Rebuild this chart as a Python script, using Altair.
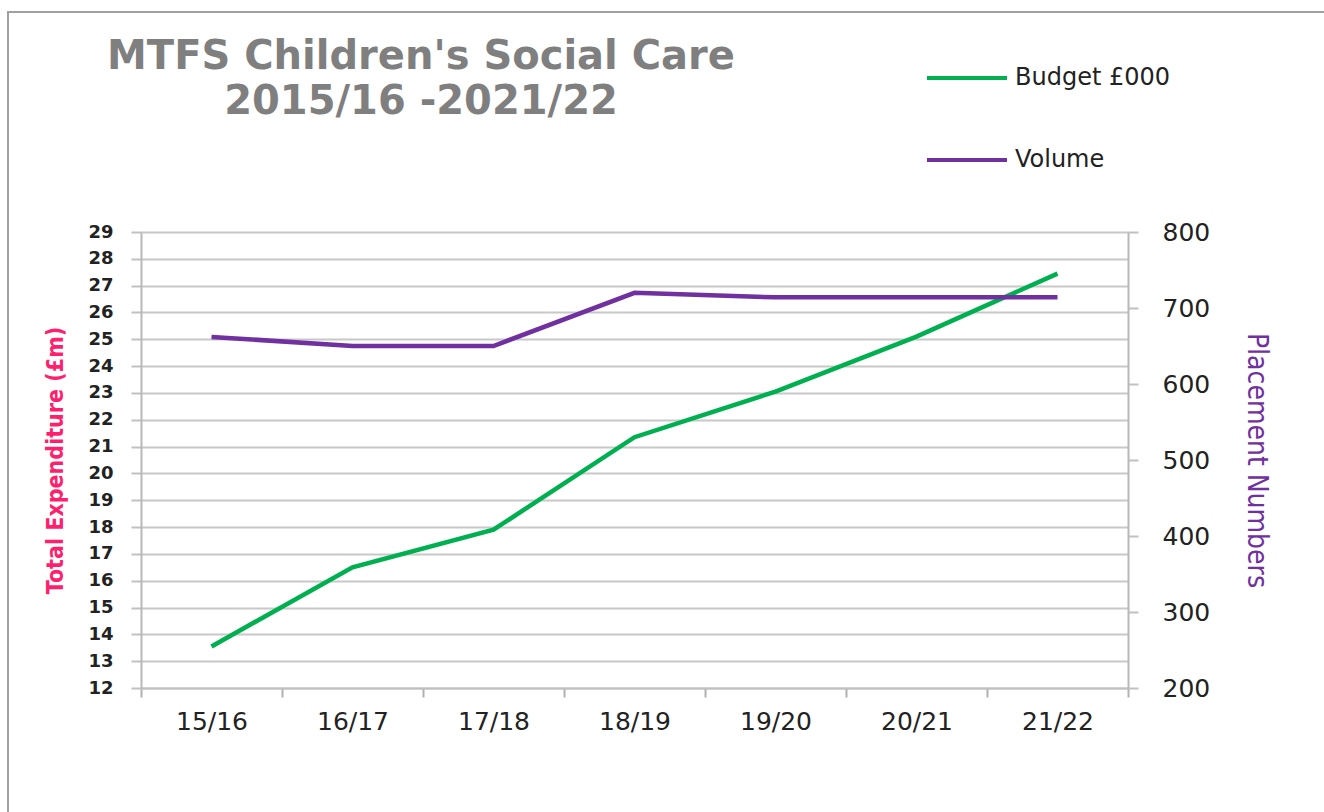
import altair as alt
import pandas as pd

years = ["15/16", "16/17", "17/18", "18/19", "19/20", "20/21", "21/22"]
budget = [13.55, 16.5, 17.9, 21.35, 23.05, 25.1, 27.45]
volume = [662, 650, 650, 720, 714, 714, 714]
left_ticks = list(range(12, 30))
right_ticks = list(range(200, 900, 100))
series_names = ["Budget £000", "Volume"]
series_colors = ["#00B050", "#7030A0"]

df_b = pd.DataFrame({"year": years, "value": budget, "series": series_names[0]})
df_v = pd.DataFrame({"year": years, "value": volume, "series": series_names[1]})

W, H = 987, 456
PL, PT = 141, 232
COND = "DejaVu Sans Condensed, Roboto, sans-serif"

xenc = alt.X("year:N", sort=years, bandPosition=0.5,
             scale=alt.Scale(type="band", paddingInner=0, paddingOuter=0),
             axis=alt.Axis(title=None, tickBand="extent", labelAngle=0,
                           labelFont="DejaVu Sans", labelFontSize=25, labelColor="#222",
                           labelPadding=12, tickSize=9, tickColor="#b0b0b0", tickWidth=2,
                           domainColor="#c0c0c0", domainWidth=2, grid=False))

color = alt.Color("series:N", scale=alt.Scale(domain=series_names, range=series_colors),
                  legend=alt.Legend(title=None, orient="none", legendX=784, legendY=-196,
                                    symbolType="stroke", symbolSize=6400, symbolStrokeWidth=4,
                                    labelFont="DejaVu Sans", labelFontSize=24, labelColor="#222",
                                    labelOffset=6, rowPadding=28, symbolOffset=0))

border = alt.Chart(pd.DataFrame({"a": [0]})).mark_rect(
    fill=None, stroke="#a0a0a0", strokeWidth=2
).encode(x=alt.value(8 - PL), x2=alt.value(1360 - PL),
         y=alt.value(12 - PT), y2=alt.value(840 - PT))

line_b = alt.Chart(df_b).mark_line(strokeWidth=4.5).encode(
    x=xenc,
    y=alt.Y("value:Q", scale=alt.Scale(domain=[12, 29], nice=False, zero=False),
            axis=alt.Axis(title="Total Expenditure (£m)", values=left_ticks,
                          titleFont=COND, titleFontSize=23,
                          titleFontWeight="bold", titleColor="#FF1F6E", titlePadding=20,
                          labelFont="DejaVu Sans", labelFontSize=18, labelFontWeight="bold",
                          labelColor="#222", labelPadding=18,
                          tickSize=10, tickColor="#c0c0c0", tickWidth=2,
                          domainColor="#b8b8b8", domainWidth=2,
                          grid=True, gridColor="#c8c8c8", gridWidth=2)),
    color=color,
)

line_v = alt.Chart(df_v).mark_line(strokeWidth=4.5).encode(
    x=xenc,
    y=alt.Y("value:Q", scale=alt.Scale(domain=[200, 800], nice=False, zero=False),
            axis=alt.Axis(orient="right", title="Placement Numbers", values=right_ticks,
                          titleFont=COND, titleFontSize=28,
                          titleFontWeight="normal", titleColor="#7030A0", titlePadding=32,
                          labelFont="DejaVu Sans", labelFontSize=25,
                          labelColor="#222", labelPadding=24,
                          tickSize=10, tickColor="#c0c0c0", tickWidth=2,
                          domainColor="#b8b8b8", domainWidth=2, grid=False)),
    color=color,
)

chart = alt.layer(border, line_b, line_v).resolve_scale(y="independent").properties(
    width=W, height=H,
    padding={"left": PL, "top": PT, "right": 1324 - PL - W, "bottom": 812 - PT - H},
    autosize=alt.AutoSizeParams(type="none"),
    background="white",
    title=alt.TitleParams(
        text=["MTFS Children's Social Care", "2015/16 -2021/22"],
        anchor="start", align="center", dx=280, offset=0, dy=111, frame="group",
        font="DejaVu Sans", fontSize=40, fontWeight="bold", color="#7f7f7f",
        lineHeight=45,
    ),
).configure_view(stroke=None)

chart.save("out.html", embed_options={"renderer": "svg", "actions": False})
